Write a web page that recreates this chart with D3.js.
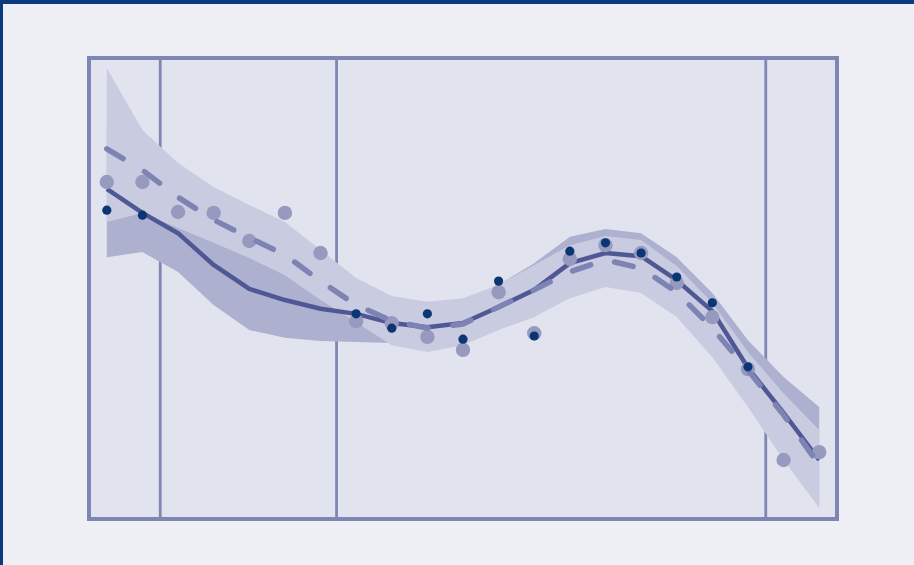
<!DOCTYPE html>
<html>
<head>
<meta charset="utf-8">
<script src="https://cdn.jsdelivr.net/npm/d3@7/dist/d3.min.js"></script>
<style>
  html, body { margin: 0; padding: 0; background: #eff0f5; overflow: hidden; }
  #chart svg { display: block; }
</style>
</head>
<body>
<div id="chart"></div>
<script>
// Global config
var WIDTH = 914;
var HEIGHT = 565;

var COLORS = {
  page: "#eff0f5",
  frame: "#0b3a7e",
  panel: "#e1e4ee",
  border: "#8086b4",
  bandDark: "#adb1cf",
  bandLight: "#c9cbe0",
  solid: "#4f5895",
  dashed: "#7d83b3",
  dotGrey: "#979abf",
  dotDark: "#0b3573"
};

// Data
var X_VALUES = [0, 1, 2, 3, 4, 5, 6, 7, 8, 9, 10, 11, 12, 13, 14, 15, 16, 17, 18, 19, 20];

var OBSERVED_A = [73.1, 73.1, 66.6, 66.4, 60.3, 66.4, 57.7, 42.9, 42.5, 39.5, 36.7,
  49.2, 40.3, 56.4, 59.4, 57.7, 51.2, 43.8, 32.5, 12.8, 14.5];

var OBSERVED_B = [67.0, 65.9, null, null, null, null, null, 44.5, 41.4, 44.5, 39.0,
  51.6, 39.7, 58.1, 59.9, 57.7, 52.5, 46.9, 33.0, null, null];

var FIT_SOLID = [71.6, 66.4, 62.0, 55.1, 49.9, 47.5, 45.6, 44.5, 42.5, 41.6, 42.5,
  46.0, 49.7, 55.5, 57.7, 57.0, 51.8, 45.1, 32.8, 23.0, 12.8];
var SOLID_UPPER = [86.3, 74.8, 70.5, 63.8, 58.8, 55.7, 52.5, 50.5, 46.9, 45.6, 46.9,
  50.8, 55.5, 61.2, 62.9, 62.0, 56.8, 49.0, 38.8, 30.8, 24.3];
var SOLID_LOWER = [56.8, 57.9, 53.6, 46.4, 41.0, 39.3, 38.6, 38.4, 38.2, 37.7, 38.2,
  41.2, 43.8, 49.9, 52.5, 52.1, 46.9, 41.2, 26.7, 15.2, 3.0];

var FIT_DASHED = [80.3, 75.7, 69.8, 64.9, 61.0, 57.3, 51.6, 46.4, 43.0, 41.4, 42.3,
  46.0, 49.7, 53.6, 56.2, 54.4, 49.2, 41.4, 32.3, 22.6, 11.7];
var DASHED_UPPER = [97.8, 84.4, 77.2, 72.0, 68.1, 64.4, 58.4, 52.3, 48.4, 47.1, 47.9,
  50.8, 55.1, 59.4, 61.4, 60.5, 54.9, 46.9, 36.2, 27.3, 19.3];
var DASHED_LOWER = [64.4, 66.4, 63.1, 59.9, 56.6, 52.9, 47.5, 42.7, 37.7, 36.2, 37.7,
  41.0, 43.8, 47.9, 50.3, 49.0, 43.8, 35.1, 24.3, 12.8, 2.4];

var X_DOMAIN = [-0.5, 20.5];
var Y_DOMAIN = [0, 100];
var REFERENCE_LINES = [1.5, 6.45, 18.5];

// Render the chart
var render = function() {
  var margins = { top: 58, right: 77, bottom: 46, left: 89 };
  var chartWidth = WIDTH - margins.left - margins.right;
  var chartHeight = HEIGHT - margins.top - margins.bottom;

  var containerElement = d3.select("#chart");
  containerElement.html("");

  var svg = containerElement
    .append("svg")
    .attr("width", WIDTH)
    .attr("height", HEIGHT);

  svg.append("rect")
    .attr("width", WIDTH)
    .attr("height", HEIGHT)
    .attr("fill", COLORS.page);

  // outer frame, only top and left edges show in the window
  svg.append("line")
    .attr("x1", 0).attr("x2", WIDTH)
    .attr("y1", 2).attr("y2", 2)
    .attr("stroke", COLORS.frame)
    .attr("stroke-width", 4);
  svg.append("line")
    .attr("x1", 1.5).attr("x2", 1.5)
    .attr("y1", 0).attr("y2", HEIGHT)
    .attr("stroke", COLORS.frame)
    .attr("stroke-width", 3);

  var chartElement = svg
    .append("g")
    .attr("transform", "translate(" + margins.left + "," + margins.top + ")");

  var xScale = d3.scaleLinear().domain(X_DOMAIN).range([0, chartWidth]);
  var yScale = d3.scaleLinear().domain(Y_DOMAIN).range([chartHeight, 0]);

  // panel background
  chartElement.append("rect")
    .attr("x", 0).attr("y", 0)
    .attr("width", chartWidth)
    .attr("height", chartHeight)
    .attr("fill", COLORS.panel);

  // vertical reference lines
  chartElement.append("g")
    .selectAll("line")
    .data(REFERENCE_LINES)
    .enter()
    .append("line")
    .attr("x1", d => xScale(d))
    .attr("x2", d => xScale(d))
    .attr("y1", 0)
    .attr("y2", chartHeight)
    .attr("stroke", COLORS.border)
    .attr("stroke-width", 2.8);

  var rows = X_VALUES.map(function(x, i) {
    return {
      x: x,
      a: OBSERVED_A[i],
      b: OBSERVED_B[i],
      solid: FIT_SOLID[i],
      solidLo: SOLID_LOWER[i],
      solidHi: SOLID_UPPER[i],
      dashed: FIT_DASHED[i],
      dashedLo: DASHED_LOWER[i],
      dashedHi: DASHED_UPPER[i]
    };
  });

  // confidence bands
  var solidBand = d3.area()
    .x(d => xScale(d.x))
    .y0(d => yScale(d.solidLo))
    .y1(d => yScale(d.solidHi));

  var dashedBand = d3.area()
    .x(d => xScale(d.x))
    .y0(d => yScale(d.dashedLo))
    .y1(d => yScale(d.dashedHi));

  chartElement.append("path")
    .datum(rows)
    .attr("d", solidBand)
    .attr("fill", COLORS.bandDark);

  chartElement.append("path")
    .datum(rows)
    .attr("d", dashedBand)
    .attr("fill", COLORS.bandLight);

  // fitted lines
  var solidLine = d3.line()
    .x(d => xScale(d.x))
    .y(d => yScale(d.solid));

  var dashedLine = d3.line()
    .x(d => xScale(d.x))
    .y(d => yScale(d.dashed));

  chartElement.append("path")
    .datum(rows)
    .attr("d", solidLine)
    .attr("fill", "none")
    .attr("stroke", COLORS.solid)
    .attr("stroke-width", 4.5)
    .attr("stroke-linejoin", "round");

  // observed points
  chartElement.append("g")
    .selectAll("circle")
    .data(rows)
    .enter()
    .append("circle")
    .attr("cx", d => xScale(d.x))
    .attr("cy", d => yScale(d.a))
    .attr("r", 7.2)
    .attr("fill", COLORS.dotGrey);

  chartElement.append("path")
    .datum(rows)
    .attr("d", dashedLine)
    .attr("fill", "none")
    .attr("stroke", COLORS.dashed)
    .attr("stroke-width", 5.5)
    .attr("stroke-linecap", "round")
    .attr("stroke-dasharray", "19,25");

  chartElement.append("g")
    .selectAll("circle")
    .data(rows.filter(d => d.b != null))
    .enter()
    .append("circle")
    .attr("cx", d => xScale(d.x))
    .attr("cy", d => yScale(d.b))
    .attr("r", 4.6)
    .attr("fill", COLORS.dotDark);

  // panel border
  chartElement.append("rect")
    .attr("x", 0).attr("y", 0)
    .attr("width", chartWidth)
    .attr("height", chartHeight)
    .attr("fill", "none")
    .attr("stroke", COLORS.border)
    .attr("stroke-width", 4);
};

render();
</script>
</body>
</html>
